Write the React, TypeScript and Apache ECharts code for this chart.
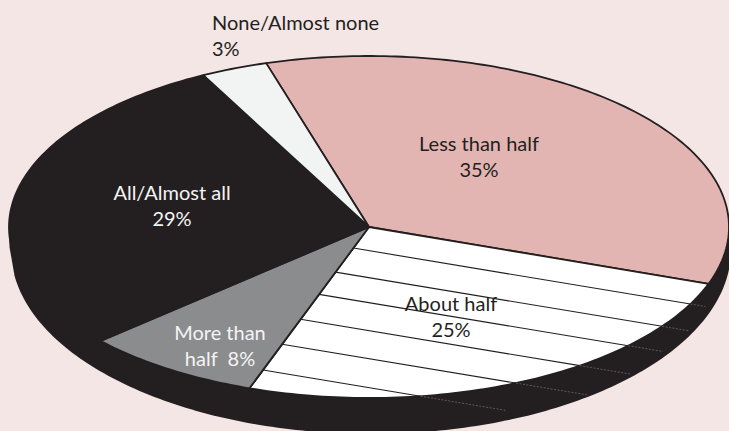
import React, { useEffect, useRef } from "react";
import * as echarts from "echarts";

const categories = ["Less than half", "About half", "More than half", "All/Almost all", "None/Almost none"];
const values = [35, 25, 8, 29, 3];
const labelLines = [
  ["Less than half", "35%"],
  ["About half", "25%"],
  ["More than", "half  8%"],
  ["All/Almost all", "29%"],
  ["None/Almost none", "3%"],
];
const sliceColors = ["#e3b5b2", "#ffffff", "#8a8c8e", "#231f20", "#f1f4f3"];
const textColors = ["#231f20", "#231f20", "#f4f4f4", "#f4f4f4", "#231f20"];
const labelAnchors = [
  [479, 143, "center"],
  [451, 303, "center"],
  [220, 332, "center"],
  [172, 192, "center"],
  [212, 22, "left"],
];

const W = 729;
const H = 431;
const CX = 369;
const CY = 227;
const RX = 360;
const RY = 171;
const BASE_CX = 371;
const BASE_CY = 250;
const BASE_RY = 184;
const START_DEG = -16.6;
const LINE_H = 26;
const HATCH_SLOPE = 0.166;
const HATCH_REF_X = 365;
const hatchYs = [250, 277, 302, 330, 358, 387];
const hatchDashLengths = [15, 27, 35, 50, 72, 85];
const DARK = "#231f20";
const FONT = '20px Lato, sans-serif';

const total = values.reduce((a, b) => a + b, 0);
const boundaries: number[] = [];
values.reduce((acc, v) => {
  boundaries.push(acc);
  return acc + (v / total) * 360;
}, START_DEG);
boundaries.push(START_DEG + 360);

const onEllipse = (deg: number) => {
  const a = (deg * Math.PI) / 180;
  return [CX + RX * Math.sin(a), CY - RY * Math.cos(a)];
};

const slicePoints = (i: number) => {
  const a0 = boundaries[i];
  const a1 = boundaries[i + 1];
  const n = Math.max(4, Math.ceil(a1 - a0));
  const pts = [[CX, CY]];
  for (let k = 0; k <= n; k++) pts.push(onEllipse(a0 + ((a1 - a0) * k) / n));
  return pts;
};

// the pie's side: the lower half of a second ellipse joined to the left and right ends of the top
const basePoints = () => {
  const pts = [];
  for (let k = 90; k <= 262; k++) {
    const a = (k * Math.PI) / 180;
    pts.push([BASE_CX + RX * Math.sin(a), BASE_CY - BASE_RY * Math.cos(a)]);
  }
  pts.push([CX - RX + 0.5, BASE_CY - 3], [CX - RX, CY], [CX + RX, CY]);
  return pts;
};

// hatch line y = y0 + m (x - refX), clipped to the "About half" slice
const hatchSegment = (y0: number) => {
  const m = HATCH_SLOPE;
  const b = y0 + m * (CX - HATCH_REF_X) - CY; // relative to centre: y = b + m x
  const A = 1 / (RX * RX) + (m * m) / (RY * RY);
  const B = (2 * m * b) / (RY * RY);
  const C = (b * b) / (RY * RY) - 1;
  const d = Math.sqrt(B * B - 4 * A * C);
  const xr = (-B + d) / (2 * A);
  const end = onEllipse(boundaries[2]);
  const dx = end[0] - CX;
  const dy = end[1] - CY;
  const t = b / (dy - m * dx);
  const xl = t > 0 && t < 1 ? t * dx : (-B - d) / (2 * A);
  return [
    [CX + xl, CY + b + m * xl],
    [CX + xr, CY + b + m * xr],
  ];
};

const renderBase = () => ({
  type: "polygon",
  shape: { points: basePoints() },
  style: { fill: DARK },
});

const renderSlice = (params: any) => {
  const i = params.dataIndex;
  const children: any[] = [
    {
      type: "polygon",
      shape: { points: slicePoints(i) },
      style: { fill: sliceColors[i], stroke: DARK, lineWidth: 1.8, lineJoin: "round" },
    },
  ];
  if (i === 1) {
    hatchYs.forEach((y0, k) => {
      const [p, q] = hatchSegment(y0);
      children.push({
        type: "line",
        shape: { x1: p[0], y1: p[1], x2: q[0], y2: q[1] },
        style: { stroke: DARK, lineWidth: 1.1 },
      });
      const len = hatchDashLengths[k];
      children.push({
        type: "line",
        shape: { x1: q[0], y1: q[1], x2: q[0] + len, y2: q[1] + len * HATCH_SLOPE },
        style: { stroke: "#6a6869", lineWidth: 0.8, lineDash: [2, 1.5] },
      });
    });
  }
  return { type: "group", children };
};

const renderLabel = (params: any) => {
  const i = params.dataIndex;
  const [x, y, align] = labelAnchors[i] as [number, number, string];
  return {
    type: "group",
    children: labelLines[i].map((text, k) => ({
      type: "text",
      x,
      y: y + k * LINE_H,
      style: { text, fill: textColors[i], font: FONT, align, verticalAlign: "middle" },
    })),
  };
};

export default function App() {
  const ref = useRef<HTMLDivElement>(null);
  useEffect(() => {
    document.body.style.margin = "0";
    const chart = echarts.init(ref.current!, undefined, { renderer: "svg" });
    chart.setOption({
      animation: false,
      backgroundColor: "#f5e6e6",
      series: [
        { type: "custom", coordinateSystem: "none", silent: true, z: 1, data: [0], renderItem: renderBase },
        {
          type: "custom",
          coordinateSystem: "none",
          silent: true,
          z: 2,
          data: categories.map((name, i) => ({ name, value: values[i] })),
          renderItem: renderSlice,
        },
        {
          type: "custom",
          coordinateSystem: "none",
          silent: true,
          z: 3,
          data: categories.map((name, i) => ({ name, value: values[i] })),
          renderItem: renderLabel,
        },
      ],
    });
    return () => chart.dispose();
  }, []);
  return <div ref={ref} style={{ width: W, height: H }} />;
}
